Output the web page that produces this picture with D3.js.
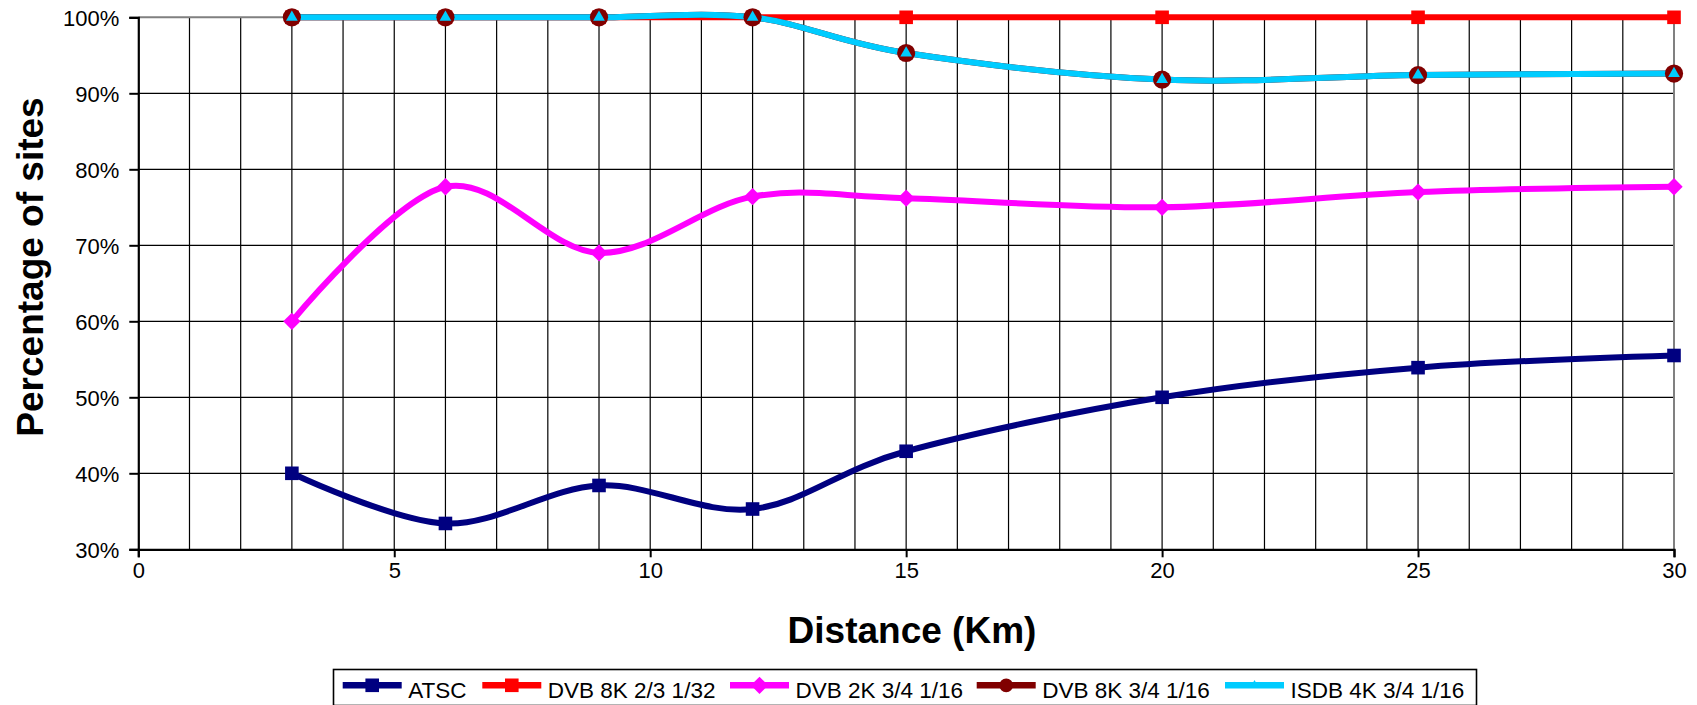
<!DOCTYPE html>
<html>
<head>
<meta charset="utf-8">
<script src="https://cdn.jsdelivr.net/npm/d3@7"></script>
<style>
    body { margin: 0; background: #fff; }
    svg text { font-family: Arial, "Liberation Sans", sans-serif; fill: #000; }
</style>
</head>
<body>
<div class="graph"></div>
<script>
// Distance in km where the sites were measured
const distances = [3, 6, 9, 12, 15, 20, 25, 30];

// Percentage of sites, one array per system
const atsc = [40.0, 33.4, 38.4, 35.3, 42.9, 50.0, 53.9, 55.5];
const dvb8k2332 = [100, 100, 100, 100, 100, 100, 100, 100];
const dvb2k3416 = [60.0, 77.7, 69.0, 76.4, 76.2, 75.0, 77.0, 77.7];
const dvb8k3416 = [100, 100, 100, 100, 95.3, 91.8, 92.4, 92.6];
const isdb4k3416 = [100, 100, 100, 100, 95.3, 91.8, 92.4, 92.6];

const seriesNames = ["ATSC", "DVB 8K 2/3 1/32", "DVB 2K 3/4 1/16", "DVB 8K 3/4 1/16", "ISDB 4K 3/4 1/16"];
const seriesValues = [atsc, dvb8k2332, dvb2k3416, dvb8k3416, isdb4k3416];

// Axis ticks
const xTicks = [0, 5, 10, 15, 20, 25, 30];
const yTicks = [30, 40, 50, 60, 70, 80, 90, 100];

// Look of each series
const colors = ["#000080", "#ff0000", "#ff00ff", "#800000", "#00ccff"];
const symbols = [d3.symbolSquare, d3.symbolSquare, d3.symbolSquare, d3.symbolCircle, d3.symbolTriangle];
const symbolSizes = [185, 185, 150, 260, 60];
const symbolRotate = [0, 0, 45, 0, 0];

const dimensions = {
    width: 1697,
    height: 705,
    margins: {
        top: 17.3,
        right: 23,
        bottom: 155.7,
        left: 138.3
    }
};
dimensions.boundedWidth = dimensions.width - dimensions.margins.left - dimensions.margins.right;
dimensions.boundedHeight = dimensions.height - dimensions.margins.top - dimensions.margins.bottom;

const wrapper = d3.select(".graph")
    .append("svg")
        .attr("width", dimensions.width)
        .attr("height", dimensions.height);

const bounds = wrapper.append("g")
    .attr("transform", `translate(${dimensions.margins.left},${dimensions.margins.top})`);

const xScale = d3.scaleLinear()
    .domain([0, 30])
    .range([0, dimensions.boundedWidth]);

const yScale = d3.scaleLinear()
    .domain([30, 100])
    .range([dimensions.boundedHeight, 0]);

// Grid lines, one per km and one per 10%
bounds.append("g")
    .selectAll("line")
    .data(d3.range(1, 30))
    .join("line")
        .attr("x1", d => xScale(d))
        .attr("x2", d => xScale(d))
        .attr("y1", 0)
        .attr("y2", dimensions.boundedHeight)
        .attr("stroke", "#000")
        .attr("stroke-width", 1.2);

bounds.append("g")
    .selectAll("line")
    .data(yTicks.filter(d => d > 30 && d < 100))
    .join("line")
        .attr("x1", 0)
        .attr("x2", dimensions.boundedWidth)
        .attr("y1", d => yScale(d))
        .attr("y2", d => yScale(d))
        .attr("stroke", "#000")
        .attr("stroke-width", 1.2);

// Plot area border (top and right are grey)
bounds.append("path")
    .attr("d", `M0,${yScale(100)}H${xScale(30)}V${yScale(30)}`)
    .attr("fill", "none")
    .attr("stroke", "#808080")
    .attr("stroke-width", 2);

// Axes
const yAxis = bounds.append("g")
    .call(d3.axisLeft(yScale).tickValues(yTicks).tickSize(9).tickFormat(d => d + "%"));
yAxis.select(".domain").attr("stroke", "#000").attr("stroke-width", 2.2);
yAxis.selectAll(".tick line").attr("stroke", "#000").attr("stroke-width", 2);
yAxis.selectAll(".tick text")
    .attr("x", -19)
    .attr("dy", "0.36em")
    .style("font-size", "22px");

const xAxis = bounds.append("g")
    .attr("transform", `translate(0,${dimensions.boundedHeight})`)
    .call(d3.axisBottom(xScale).tickValues(xTicks).tickSize(8).tickFormat(d3.format("d")));
xAxis.select(".domain").attr("stroke", "#000").attr("stroke-width", 2.2);
xAxis.selectAll(".tick line").attr("stroke", "#000").attr("stroke-width", 2);
xAxis.selectAll(".tick text")
    .attr("y", 29)
    .attr("dy", 0)
    .style("font-size", "22px");
xAxis.selectAll(".domain, .tick text").raise();

// Axis titles
wrapper.append("text")
    .attr("x", 912)
    .attr("y", 642.5)
    .attr("text-anchor", "middle")
    .style("font-size", "37px")
    .style("font-weight", "bold")
    .text("Distance (Km)");

wrapper.append("text")
    .attr("transform", "translate(43,267) rotate(-90)")
    .attr("text-anchor", "middle")
    .style("font-size", "37px")
    .style("font-weight", "bold")
    .text("Percentage of sites");

// Smoothed lines like the spreadsheet chart
const lineGenerator = d3.line()
    .x((d, i) => xScale(distances[i]))
    .y(d => yScale(d))
    .curve(d3.curveCardinal.tension(0));

seriesValues.forEach((values, s) => {
    bounds.append("path")
        .attr("d", lineGenerator(values))
        .attr("fill", "none")
        .attr("stroke", colors[s])
        .attr("stroke-width", 6)
        .attr("stroke-linejoin", "round");
});

// Markers go on top of all the lines
seriesValues.forEach((values, s) => {
    bounds.append("g")
        .selectAll("path")
        .data(values)
        .join("path")
            .attr("d", d3.symbol(symbols[s], symbolSizes[s]))
            .attr("transform", (d, i) => `translate(${xScale(distances[i])},${yScale(d)}) rotate(${symbolRotate[s]})`)
            .attr("fill", colors[s]);
});

// Legend
const legendX = [342.7, 482.3, 730, 976.7, 1225];
const legend = wrapper.append("g");
legend.append("rect")
    .attr("x", 333.5)
    .attr("y", 669.5)
    .attr("width", 1143)
    .attr("height", 36)
    .attr("fill", "#fff")
    .attr("stroke", "#000")
    .attr("stroke-width", 1.6);

const legendItems = legend.selectAll("g.item")
    .data(seriesNames)
    .join("g")
        .attr("class", "item")
        .attr("transform", (d, i) => `translate(${legendX[i]},685.3)`);

legendItems.append("line")
    .attr("x1", 0)
    .attr("x2", 59)
    .attr("stroke", (d, i) => colors[i])
    .attr("stroke-width", 6.5);

legendItems.append("path")
    .attr("d", (d, i) => d3.symbol(symbols[i], i === 3 ? 150 : i === 4 ? 35 : symbolSizes[i])())
    .attr("transform", (d, i) => `translate(29.5,0) rotate(${symbolRotate[i]})`)
    .attr("fill", (d, i) => colors[i]);

legendItems.append("text")
    .attr("x", 65.5)
    .attr("y", 13)
    .style("font-size", "22.5px")
    .text(d => d);
</script>
</body>
</html>
